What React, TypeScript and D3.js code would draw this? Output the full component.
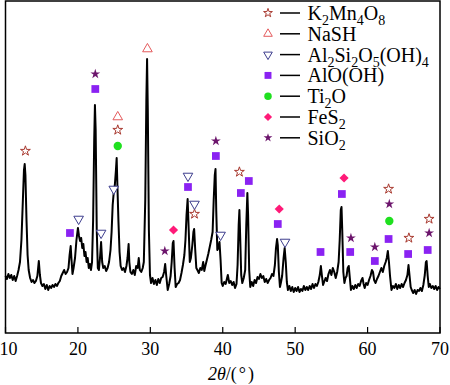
import React from 'react';
import * as d3 from 'd3';

// XRD pattern: [2theta (deg), intensity (a.u.)]
const pattern: [number, number][] = [
    [10.0, 171], [10.2, 162], [10.4, 177], [10.6, 165], [10.8, 174], [11.0, 159], [11.2, 171], [11.4, 156], [11.6, 171], [11.8, 189],
    [12.0, 213], [12.2, 279], [12.4, 399], [12.55, 489], [12.65, 507], [12.75, 474], [12.9, 339], [13.05, 234], [13.2, 189], [13.4, 165],
    [13.6, 153], [13.8, 159], [14.0, 150], [14.2, 156], [14.4, 171], [14.6, 216], [14.75, 174], [14.9, 150], [15.1, 141], [15.3, 147],
    [15.5, 132], [15.7, 144], [15.9, 129], [16.1, 141], [16.3, 135], [16.5, 144], [16.7, 138], [16.9, 147], [17.1, 141], [17.3, 150],
    [17.5, 156], [17.7, 171], [17.9, 180], [18.1, 189], [18.3, 177], [18.5, 183], [18.7, 195], [18.85, 234], [19.0, 261], [19.1, 225],
    [19.25, 177], [19.4, 195], [19.6, 225], [19.8, 279], [20.0, 315], [20.15, 291], [20.3, 276], [20.45, 285], [20.6, 255], [20.75, 267],
    [20.9, 231], [21.05, 243], [21.2, 213], [21.35, 225], [21.5, 195], [21.65, 207], [21.8, 189], [21.95, 213], [22.1, 339], [22.25, 579],
    [22.35, 684], [22.45, 609], [22.6, 309], [22.75, 195], [22.9, 189], [23.05, 225], [23.2, 273], [23.35, 213], [23.5, 195], [23.7, 201],
    [23.9, 186], [24.1, 195], [24.3, 213], [24.5, 249], [24.65, 303], [24.8, 384], [24.95, 423], [25.1, 444], [25.25, 489], [25.35, 525],
    [25.45, 444], [25.6, 333], [25.75, 243], [25.9, 201], [26.1, 189], [26.3, 195], [26.5, 183], [26.7, 201], [26.85, 225], [27.0, 267],
    [27.1, 213], [27.25, 183], [27.45, 177], [27.65, 189], [27.85, 174], [28.05, 201], [28.25, 195], [28.4, 225], [28.55, 189], [28.75, 183],
    [28.95, 195], [29.1, 213], [29.3, 399], [29.45, 699], [29.55, 822], [29.65, 669], [29.8, 309], [29.95, 174], [30.1, 150], [30.3, 165],
    [30.5, 147], [30.7, 159], [30.9, 144], [31.1, 162], [31.3, 150], [31.5, 165], [31.7, 168], [31.9, 183], [32.05, 207], [32.2, 171],
    [32.4, 129], [32.6, 147], [32.8, 171], [32.95, 213], [33.1, 270], [33.2, 276], [33.35, 195], [33.5, 138], [33.7, 147], [33.9, 150],
    [34.1, 159], [34.3, 180], [34.5, 204], [34.7, 234], [34.85, 279], [35.0, 354], [35.15, 402], [35.3, 309], [35.45, 213], [35.6, 225],
    [35.8, 264], [35.95, 303], [36.05, 312], [36.2, 249], [36.35, 195], [36.5, 189], [36.7, 180], [36.9, 195], [37.1, 189], [37.3, 213],
    [37.45, 186], [37.6, 201], [37.8, 219], [38.0, 237], [38.2, 258], [38.4, 279], [38.6, 303], [38.75, 399], [38.9, 474], [39.0, 492],
    [39.1, 369], [39.25, 249], [39.4, 255], [39.55, 273], [39.7, 219], [39.85, 150], [40.0, 141], [40.2, 153], [40.4, 147], [40.6, 165],
    [40.7, 174], [40.9, 150], [41.1, 156], [41.3, 144], [41.5, 153], [41.7, 135], [41.9, 147], [42.05, 204], [42.2, 324], [42.3, 369],
    [42.4, 294], [42.55, 174], [42.7, 150], [42.9, 165], [43.1, 189], [43.25, 324], [43.4, 420], [43.5, 354], [43.65, 189], [43.8, 138],
    [44.0, 153], [44.2, 141], [44.4, 159], [44.6, 150], [44.8, 168], [45.0, 162], [45.2, 177], [45.4, 165], [45.6, 171], [45.8, 153],
    [46.0, 162], [46.2, 150], [46.4, 159], [46.6, 165], [46.8, 177], [47.0, 171], [47.2, 204], [47.35, 255], [47.5, 282], [47.6, 264],
    [47.75, 183], [47.9, 138], [48.05, 153], [48.2, 171], [48.4, 225], [48.55, 255], [48.7, 213], [48.85, 153], [49.0, 129], [49.2, 141],
    [49.4, 126], [49.6, 138], [49.8, 123], [50.0, 135], [50.2, 126], [50.4, 138], [50.6, 123], [50.8, 132], [51.0, 126], [51.2, 141],
    [51.4, 129], [51.6, 138], [51.8, 129], [52.0, 141], [52.2, 132], [52.4, 147], [52.6, 135], [52.8, 147], [53.0, 141], [53.2, 153],
    [53.4, 174], [53.55, 201], [53.7, 171], [53.85, 144], [54.0, 153], [54.2, 165], [54.4, 156], [54.6, 177], [54.8, 189], [55.0, 174],
    [55.2, 195], [55.4, 183], [55.6, 165], [55.8, 183], [56.0, 213], [56.15, 279], [56.3, 369], [56.4, 378], [56.5, 309], [56.65, 183],
    [56.8, 150], [56.95, 165], [57.1, 171], [57.25, 195], [57.4, 201], [57.55, 165], [57.7, 129], [57.9, 141], [58.1, 132], [58.3, 144],
    [58.5, 135], [58.7, 147], [58.9, 141], [59.1, 156], [59.3, 165], [59.45, 147], [59.6, 135], [59.8, 150], [60.0, 144], [60.2, 159],
    [60.4, 171], [60.6, 189], [60.75, 183], [60.9, 159], [61.1, 150], [61.3, 162], [61.5, 171], [61.7, 183], [61.9, 195], [62.1, 183],
    [62.3, 201], [62.5, 213], [62.65, 225], [62.8, 246], [62.95, 213], [63.1, 171], [63.3, 129], [63.5, 141], [63.7, 135], [63.9, 147],
    [64.1, 132], [64.3, 144], [64.5, 135], [64.7, 147], [64.9, 138], [65.1, 150], [65.3, 159], [65.5, 174], [65.65, 204], [65.8, 171],
    [65.95, 138], [66.1, 129], [66.3, 120], [66.5, 129], [66.7, 117], [66.9, 129], [67.1, 126], [67.3, 135], [67.5, 126], [67.7, 144],
    [67.9, 174], [68.05, 213], [68.15, 216], [68.3, 171], [68.45, 138], [68.6, 147], [68.8, 135], [69.0, 141], [69.2, 132], [69.4, 141],
    [69.6, 129], [69.8, 138], [70.0, 132],
];

// phase markers: [2theta, level]
const k2mn4o8Peaks: [number, number][] = [[12.75, 546], [25.5, 609], [36.1, 357], [42.3, 483], [62.9, 432], [65.7, 285], [68.5, 342]];
const nashPeaks: [number, number][] = [[25.5, 648], [29.6, 852]];
const kaolinitePeaks: [number, number][] = [[20.1, 342], [23.2, 300], [24.95, 432], [35.2, 471], [36.1, 387], [39.7, 294], [48.6, 273]];
const boehmitePeaks: [number, number][] = [[18.9, 300], [22.4, 732], [35.2, 438], [39.05, 531], [42.5, 420], [43.6, 456], [47.6, 327],
    [53.5, 243], [56.45, 417], [57.6, 243], [61.0, 216], [62.9, 282], [65.6, 237], [68.3, 249]];
const ti2oPeaks: [number, number][] = [[25.5, 561], [63.0, 336]];
const fes2Peaks: [number, number][] = [[33.2, 309], [47.8, 372], [56.75, 465]];
const sio2Peaks: [number, number][] = [[22.4, 777], [32.0, 246], [39.05, 576], [57.7, 285], [61.0, 258], [63.0, 387], [68.5, 300]];

const xTicks = [10, 20, 30, 40, 50, 60, 70];

type Phase = { name: string, shape: string, color: string, filled: boolean, peaks: [number, number][] };
const phases: Phase[] = [
    { name: 'K2Mn4O8', shape: 'star', color: '#a8392f', filled: false, peaks: k2mn4o8Peaks },
    { name: 'NaSH', shape: 'up', color: '#e45a5c', filled: false, peaks: nashPeaks },
    { name: 'Al2Si2O5(OH)4', shape: 'down', color: '#3e3e8e', filled: false, peaks: kaolinitePeaks },
    { name: 'AlO(OH)', shape: 'square', color: '#8a22f2', filled: true, peaks: boehmitePeaks },
    { name: 'Ti2O', shape: 'circle', color: '#1fe01f', filled: true, peaks: ti2oPeaks },
    { name: 'FeS2', shape: 'diamond', color: '#ff1a78', filled: true, peaks: fes2Peaks },
    { name: 'SiO2', shape: 'star', color: '#6c156c', filled: true, peaks: sio2Peaks },
];

const font = 'Liberation Serif, Times New Roman, serif';

function symbolPath(shape: string, scale = 1) {
    switch (shape) {
        case 'star': return d3.symbol().type(d3.symbolStar).size(30 * scale)();
        case 'up':
        case 'down': return d3.symbol().type(d3.symbolTriangle).size(40 * scale)();
        case 'square': return d3.symbol().type(d3.symbolSquare).size(60 * scale)();
        case 'circle': return d3.symbol().type(d3.symbolCircle).size(55 * scale)();
        case 'diamond': return d3.symbol().type(d3.symbolSquare).size(42 * scale)();
    }
    return '';
}

function Marker(props: { phase: Phase, x: number, y: number, scale?: number }) {
    const { phase, x, y } = props;
    let rot = phase.shape == 'down' ? 180 : phase.shape == 'diamond' ? 45 : 0;
    return <path d={symbolPath(phase.shape, props.scale ?? 1) as string}
        transform={`translate(${x},${y}) rotate(${rot})`}
        fill={phase.filled ? phase.color : 'white'}
        stroke={phase.color} strokeWidth={phase.filled ? 0 : 1} />;
}

// digits in a formula are drawn as subscripts
function Formula(props: { text: string, x: number, y: number }) {
    const parts = props.text.match(/\d+|\D+/g) || [];
    return (
        <text x={props.x} y={props.y} style={{ fontFamily: font, fontSize: 20 }} fill='black'>
            {parts.map((p, i) => /\d/.test(p)
                ? <tspan key={i} style={{ fontSize: 14 }} dy={5}>{p}</tspan>
                : <tspan key={i} dy={i > 0 && /\d/.test(parts[i - 1]) ? -5 : 0}>{p}</tspan>)}
        </text>
    );
}

const App = () => {
    const svgWidth = 450;
    const svgHeight = 385;
    const left = 5.5, right = 440, top = 1, bottom = 333;

    const x = d3.scaleLinear().domain([10, 70]).range([left, right]);
    const y = d3.scaleLinear().domain([0, 999]).range([bottom, 0]);
    const linefunc = d3.line<[number, number]>().x(d => x(d[0])).y(d => y(d[1]));

    return (
        <div style={{ position: 'absolute', left: 0, top: 0 }}>
            <svg width={svgWidth} height={svgHeight} style={{ display: 'block', background: 'white', fontFamily: font }}>
                <path d={linefunc(pattern) as string} fill='none' stroke='black' strokeWidth={2} strokeLinejoin='round' />

                {phases.map((ph, i) => ph.peaks.map((p, j) =>
                    <Marker key={`${i}-${j}`} phase={ph} x={x(p[0])} y={y(p[1])} />))}

                <rect x={left} y={top} width={right - left} height={bottom - top} fill='none' stroke='black' strokeWidth={1.5} />

                {xTicks.map(t => (
                    <g key={t}>
                        <line x1={x(t)} x2={x(t)} y1={bottom} y2={bottom - 6} stroke='black' strokeWidth={1.2} />
                        <text x={Math.max(x(t), 8.5)} y={355} textAnchor='middle' style={{ fontFamily: font, fontSize: 18 }}>{t}</text>
                    </g>
                ))}

                <text x={231} y={380} textAnchor='middle' style={{ fontFamily: font, fontSize: 18 }}>
                    <tspan fontStyle='italic'>2θ</tspan>/(<tspan dx={2}>°</tspan><tspan dx={2}>)</tspan>
                </text>

                {phases.map((ph, i) => {
                    const base = 20 + i * 20.8;
                    return (
                        <g key={ph.name}>
                            <Marker phase={ph} x={268} y={base - 7} scale={0.8} />
                            <line x1={280} x2={300} y1={base - 7} y2={base - 7} stroke='black' strokeWidth={1.5} />
                            <Formula text={ph.name} x={307.5} y={base} />
                        </g>
                    );
                })}
            </svg>
        </div>
    );
}

export default App;
